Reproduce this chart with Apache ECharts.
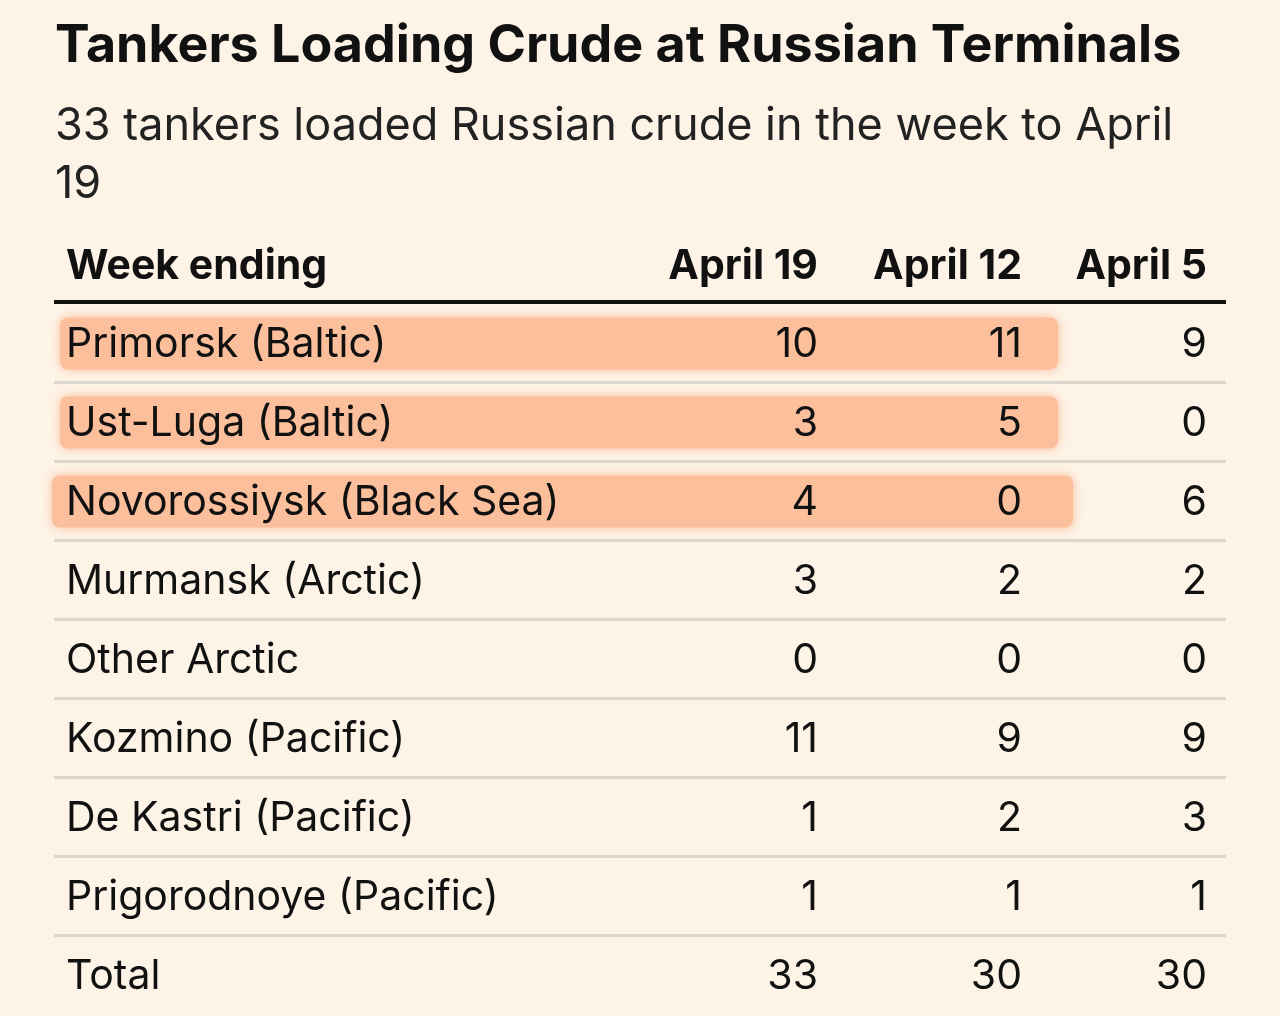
<!DOCTYPE html>
<html><head><meta charset="utf-8">
<script src="https://cdn.jsdelivr.net/npm/echarts@6/dist/echarts.min.js"></script>
<style>html,body{margin:0;background:#fdf3e6;}#c{width:1280px;height:1016px;}</style>
</head><body><div id="c"></div>
<script>
const title = 'Tankers Loading Crude at Russian Terminals';
const subtitle = '33 tankers loaded Russian crude in the week to April\n19';
const headers = ['Week ending', 'April 19', 'April 12', 'April 5'];
const terminals = ['Primorsk (Baltic)','Ust-Luga (Baltic)','Novorossiysk (Black Sea)','Murmansk (Arctic)','Other Arctic','Kozmino (Pacific)','De Kastri (Pacific)','Prigorodnoye (Pacific)','Total'];
const april19 = [10,3,4,3,0,11,1,1,33];
const april12 = [11,5,0,2,0,9,2,1,30];
const april5  = [9,0,6,2,0,9,3,1,30];
const highlighted = [true,true,true,false,false,false,false,false,false];

const FONT = 'Inter, "Liberation Sans", sans-serif';
const colX = [66, 818, 1022, 1207];
const hlRight = [1058,1058,1073];
const hlLeft = [60,60,52];
const ink = '#111';

const chart = echarts.init(document.getElementById('c'));
chart.setOption({
  backgroundColor:'#fdf3e6',
  animation:false,
  grid:{left:0,right:0,top:305,height:717},
  xAxis:{type:'value',min:0,max:1280,show:false},
  yAxis:{type:'category',data:terminals,inverse:true,show:false},
  graphic:[
    {type:'text',left:55,top:20,style:{text:title,font:'bold 52px '+FONT,fill:ink}},
    {type:'text',left:55,top:97,style:{text:subtitle,font:'45px '+FONT,fill:'#222',lineHeight:58}},
    {type:'text',left:colX[0],top:246,style:{text:headers[0],font:'bold 41px '+FONT,fill:ink}},
    {type:'text',right:1280-colX[1],top:246,style:{text:headers[1],font:'bold 41px '+FONT,fill:ink,align:'right'}},
    {type:'text',right:1280-colX[2],top:246,style:{text:headers[2],font:'bold 41px '+FONT,fill:ink,align:'right'}},
    {type:'text',right:1280-colX[3],top:246,style:{text:headers[3],font:'bold 41px '+FONT,fill:ink,align:'right'}},
    {type:'rect',shape:{x:54,y:300,width:1172,height:4},style:{fill:ink}}
  ],
  series:[{
    type:'custom',
    coordinateSystem:'cartesian2d',
    data:terminals.map((t,i)=>[0,i]),
    renderItem:function(params, api){
      const i = params.dataIndex;
      const c = api.coord([0,i]);
      const y = c[1];
      const band = api.size([0,1])[1];
      const children = [];
      if (highlighted[i]) {
        children.push({type:'rect',shape:{x:hlLeft[i],y:y-27,width:hlRight[i]-hlLeft[i],height:52,r:8},
          style:{fill:'#fcbf9c',shadowBlur:10,shadowColor:'rgba(252,170,130,0.8)'}});
      }
      children.push({type:'text',style:{text:terminals[i],x:colX[0],y:y,font:'41px '+FONT,fill:ink,verticalAlign:'middle',align:'left'}});
      [april19,april12,april5].forEach((arr,k)=>{
        children.push({type:'text',style:{text:String(arr[i]),x:colX[k+1],y:y,font:'41px '+FONT,fill:ink,verticalAlign:'middle',align:'right'}});
      });
      if (i < terminals.length-1) {
        children.push({type:'rect',shape:{x:54,y:y+band/2-3,width:1172,height:3},style:{fill:'#dcd6ce'}});
      }
      return {type:'group',children:children};
    }
  }]
});
</script></body></html>
